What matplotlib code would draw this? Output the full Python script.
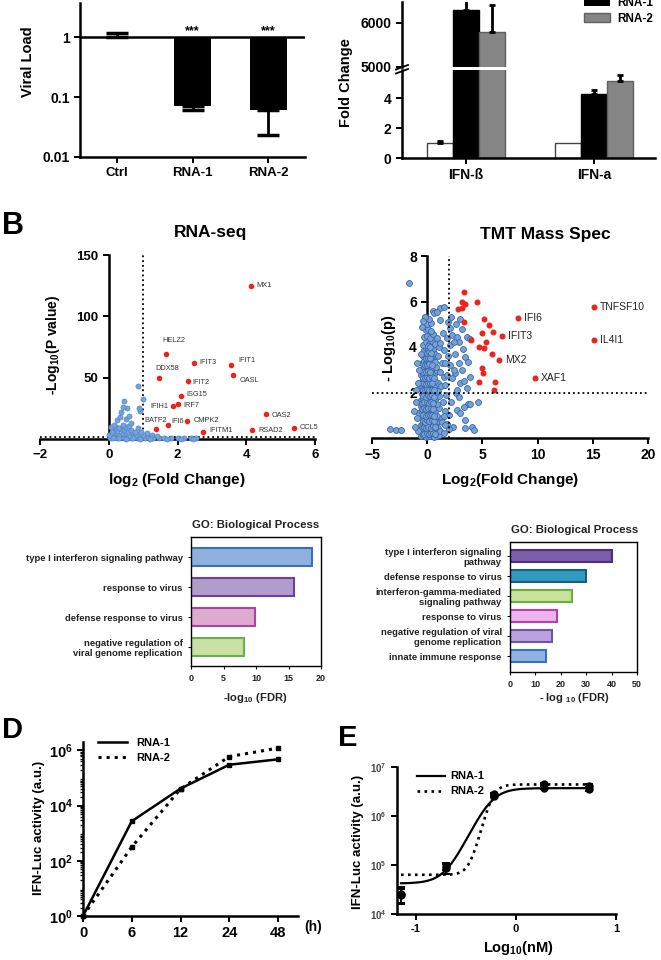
import matplotlib
matplotlib.use('Agg')
import matplotlib.pyplot as plt
import numpy as np
from matplotlib.lines import Line2D
from matplotlib.patches import Patch
from matplotlib.ticker import NullLocator, LogLocator, NullFormatter

plt.rcParams['font.family'] = ['Liberation Sans', 'DejaVu Sans']
plt.rcParams['font.weight'] = 'bold'
plt.rcParams['mathtext.fontset'] = 'custom'
plt.rcParams['mathtext.rm'] = 'Liberation Sans:bold'
plt.rcParams['mathtext.bf'] = 'Liberation Sans:bold'
plt.rcParams['mathtext.it'] = 'Liberation Sans:bold'

# ---- data -------------------------------------------------------------
# A (left) viral load
vl_groups = ['Ctrl', 'RNA-1', 'RNA-2']
vl_vals = [1.0, 0.07, 0.06]
vl_err_lo = [0.0, 0.01, 0.037]
vl_err_hi = [0.17, 0.0, 0.0]

# A (right) fold change
fc_genes = ['IFN-ß', 'IFN-a']
fc_ctrl = [1.0, 1.0]
fc_ctrl_err = [0.17, 0.0]
fc_rna1 = [6280, 4.32]
fc_rna1_err = [400, 0.25]
fc_rna2 = [5800, 5.18]
fc_rna2_err = [600, 0.4]

# B RNA-seq volcano
rna_genes = ['MX1', 'HELZ2', 'IFIT3', 'IFIT1', 'DDX58', 'OASL', 'IFIT2', 'ISG15', 'IRF7',
             'IFIH1', 'OAS2', 'CMPK2', 'IFI6', 'BATF2', 'IFITM1', 'RSAD2', 'CCL5']
rna_fc = [4.15, 1.67, 2.49, 3.57, 1.46, 3.62, 2.30, 2.11, 2.00, 1.88, 4.58, 2.28, 1.72, 1.37, 2.74, 4.17, 5.39]
rna_p = [125, 69, 62, 60, 50, 52, 47, 35, 28.5, 26.6, 20, 15, 11.4, 7.9, 5.4, 7, 9]
rna_blue = [(0.05, 1), (0.15, 2), (0.25, 1), (0.35, 2.5), (0.45, 1), (0.55, 2), (0.65, 1), (0.75, 1.5),
            (0.85, 1), (0.95, 2), (1.05, 1), (1.15, 1.5), (1.3, 1), (1.45, 1.2), (1.6, 0.8), (1.8, 1),
            (2.0, 0.8), (2.2, 1), (2.4, 0.9), (2.55, 1), (0.1, 4), (0.2, 5), (0.3, 3.5), (0.4, 4.5),
            (0.5, 5), (0.6, 3.5), (0.7, 4.5), (0.8, 3), (0.9, 4), (1.0, 3), (0.15, 7), (0.25, 6.5),
            (0.35, 8), (0.45, 7), (0.55, 6), (0.65, 7.5), (0.75, 6), (0.2, 10), (0.3, 9), (0.4, 11),
            (0.5, 9.5), (0.6, 10.5), (0.06, 9.9), (0.16, 11.8), (0.40, 11.8), (0.64, 13.2), (0.23, 15.3),
            (0.50, 16.4), (0.33, 18), (0.58, 19.1), (0.37, 22.1), (0.90, 22.9), (0.87, 25.3), (0.53, 25.3),
            (0.40, 26.2), (0.45, 30.7), (1.01, 32.7), (0.84, 42.9), (0.84, 9.1), (0.95, 6), (1.1, 4.5),
            (1.25, 3), (1.4, 2.5), (0.02, 3), (0.08, 6), (0.12, 0.5), (0.3, 0.5), (0.5, 0.4), (0.7, 0.5),
            (0.9, 0.4), (1.2, 0.3), (1.7, 0.4), (2.1, 0.3), (2.45, 0.4)]

# B TMT volcano
tmt_genes = ['TNFSF10', 'IL4I1', 'IFI6', 'IFIT3', 'MX2', 'XAF1']
tmt_fc = [15.1, 15.1, 8.2, 6.8, 6.5, 9.75]
tmt_p = [5.74, 4.3, 5.27, 4.49, 3.43, 2.63]
tmt_red = [(3.29, 6.42), (3.14, 5.98), (3.44, 5.91), (2.75, 5.69), (3.17, 5.73), (4.52, 5.98),
           (3.35, 5.12), (5.16, 5.23), (5.58, 4.95), (5.94, 4.68), (4.95, 4.61), (3.95, 4.31),
           (5.34, 4.21), (4.65, 3.99), (5.19, 3.95), (5.88, 3.68), (4.95, 3.06), (5.04, 2.84),
           (4.71, 2.44), (6.15, 2.46), (6.06, 2.13)]
tmt_blue = [(-0.55, 0.08), (-0.35, 0.12), (-0.15, 0.05), (0.05, 0.1), (0.25, 0.07), (0.45, 0.12),
            (0.65, 0.06), (0.85, 0.1), (1.05, 0.15), (-0.45, 0.3), (-0.25, 0.35), (-0.05, 0.28),
            (0.15, 0.32), (0.35, 0.4), (0.55, 0.3), (0.75, 0.36), (0.95, 0.42), (1.2, 0.3),
            (-0.6, 0.55), (-0.4, 0.62), (-0.2, 0.58), (0.0, 0.66), (0.2, 0.6), (0.4, 0.7), (0.6, 0.62),
            (0.8, 0.68), (1.0, 0.75), (-0.5, 0.85), (-0.3, 0.9), (-0.1, 0.82), (0.1, 0.95), (0.3, 0.88),
            (0.5, 0.92), (0.7, 0.85), (0.9, 0.98), (-0.7, 1.1), (-0.45, 1.15), (-0.25, 1.05),
            (-0.05, 1.2), (0.15, 1.12), (0.35, 1.25), (0.55, 1.1), (0.75, 1.2), (1.05, 1.3),
            (-0.55, 1.4), (-0.35, 1.45), (-0.15, 1.38), (0.05, 1.5), (0.25, 1.42), (0.45, 1.55),
            (0.65, 1.4), (0.85, 1.48), (-0.6, 1.65), (-0.4, 1.72), (-0.2, 1.62), (0.0, 1.78),
            (0.2, 1.7), (0.4, 1.82), (0.6, 1.68), (0.8, 1.75), (1.1, 1.85), (-0.5, 1.95), (-0.3, 2.0),
            (-0.1, 1.92), (0.1, 2.05), (0.3, 1.98), (0.5, 2.1), (0.7, 1.95), (0.95, 2.05),
            (-0.65, 2.2), (-0.45, 2.28), (-0.25, 2.18), (-0.05, 2.3), (0.15, 2.22), (0.35, 2.35),
            (0.55, 2.25), (0.75, 2.32), (1.0, 2.4), (-0.5, 2.5), (-0.3, 2.55), (-0.1, 2.48), (0.1, 2.6),
            (0.3, 2.52), (0.5, 2.62), (0.7, 2.5), (-0.55, 2.75), (-0.35, 2.8), (-0.15, 2.72),
            (0.05, 2.85), (0.25, 2.78), (0.45, 2.9), (0.65, 2.8), (0.9, 2.95), (-0.45, 3.05),
            (-0.25, 3.1), (-0.05, 3.02), (0.15, 3.15), (0.35, 3.08), (0.55, 3.2), (0.8, 3.1),
            (-0.5, 3.3), (-0.3, 3.38), (-0.1, 3.3), (0.1, 3.42), (0.3, 3.35), (0.5, 3.45), (0.7, 3.35),
            (-0.4, 3.6), (-0.2, 3.65), (0.0, 3.58), (0.2, 3.7), (0.4, 3.62), (0.6, 3.72), (-0.3, 3.88),
            (-0.1, 3.95), (0.1, 3.85), (0.3, 3.98), (0.55, 3.9), (-0.35, 4.1), (-0.1, 4.2), (0.15, 4.12),
            (0.4, 4.25), (0.7, 4.15), (-0.25, 4.45), (0.0, 4.5), (0.25, 4.4), (0.5, 4.55), (-0.15, 4.75),
            (0.1, 4.8), (0.35, 4.7), (0.0, 5.0), (0.3, 5.05), (-0.2, 5.3), (0.2, 5.25),
            (-0.45, 0.2), (-0.25, 0.18), (-0.05, 0.22), (0.15, 0.18), (0.35, 0.2), (0.55, 0.22),
            (0.75, 0.18), (-0.5, 0.45), (-0.3, 0.48), (-0.1, 0.42), (0.1, 0.5), (0.3, 0.45), (0.5, 0.52),
            (0.7, 0.48), (-0.4, 0.75), (-0.2, 0.72), (0.0, 0.78), (0.2, 0.75), (0.4, 0.8), (0.6, 0.75),
            (-0.35, 1.0), (-0.15, 0.98), (0.05, 1.02), (0.25, 1.0), (0.45, 1.0), (0.65, 0.98),
            (-0.5, 1.28), (-0.3, 1.3), (-0.1, 1.28), (0.1, 1.32), (0.3, 1.3), (0.5, 1.28), (-0.45, 1.55),
            (-0.25, 1.58), (-0.05, 1.6), (0.15, 1.55), (0.35, 1.6), (0.55, 1.55), (-0.35, 1.85),
            (-0.15, 1.82), (0.05, 1.88), (0.25, 1.85), (0.45, 1.88), (0.65, 1.82), (-0.4, 2.1),
            (-0.2, 2.12), (0.0, 2.15), (0.2, 2.1), (0.4, 2.12), (0.6, 2.1), (-0.35, 2.4), (-0.15, 2.38),
            (0.05, 2.42), (0.25, 2.4), (0.45, 2.42), (-0.4, 2.65), (-0.2, 2.62), (0.0, 2.68), (0.2, 2.65),
            (0.4, 2.68), (0.6, 2.62), (-0.35, 2.92), (-0.15, 2.9), (0.05, 2.95), (0.25, 2.92),
            (-0.2, 3.2), (0.0, 3.22), (0.2, 3.25), (0.4, 3.2), (-0.15, 3.5), (0.05, 3.5), (0.25, 3.52),
            (-0.05, 3.75), (0.15, 3.78), (0.35, 3.75), (0.05, 4.05), (0.25, 4.0),
            (-0.9, 0.9), (-1.0, 1.6), (-0.85, 2.4), (-0.8, 0.3), (-1.1, 0.5), (-0.75, 3.0), (-0.6, 3.7),
            (1.3, 0.9), (1.4, 1.6), (1.25, 2.3), (1.15, 2.9), (1.0, 3.6), (1.3, 3.3), (0.9, 4.4),
            (1.1, 4.0), (1.5, 2.7), (1.6, 1.2), (1.8, 0.6), (1.5, 0.2),
            (1.18, 5.71), (1.48, 5.76), (0.57, 5.6), (0.66, 5.48), (-0.24, 5.3), (2.17, 5.32),
            (2.99, 5.23), (2.08, 4.83), (3.14, 4.8), (2.23, 4.54), (2.68, 4.46), (3.59, 4.43),
            (1.78, 4.39), (2.9, 4.24), (3.89, 4.36), (2.02, 4.09), (1.18, 4.17), (1.48, 3.87),
            (2.53, 3.69), (3.44, 3.58), (3.68, 3.36), (2.84, 3.28), (2.08, 3.21), (3.14, 2.99),
            (2.53, 2.84), (1.78, 2.77), (3.89, 2.69), (2.23, 2.62), (2.99, 2.4), (1.63, 2.32),
            (3.65, 2.18), (2.62, 1.96), (4.64, 1.58), (3.74, 1.51), (2.68, 1.22), (1.93, 1.0),
            (3.44, 0.77), (4.04, 0.48), (2.38, 0.48), (1.33, 0.7), (3.29, 1.36), (3.89, 1.51),
            (3.44, 0.45), (4.28, 0.36), (1.63, 0.55), (1.93, 0.41), (-1.69, 6.8), (-3.35, 0.38),
            (-2.83, 0.33), (-2.35, 0.33), (1.9, 3.6), (2.4, 3.0), (1.6, 3.3), (2.7, 2.1), (3.3, 2.5),
            (1.7, 1.9), (2.2, 1.6), (2.9, 1.8), (1.4, 4.6), (2.6, 5.0), (1.9, 5.1), (0.9, 5.55),
            (-0.5, 4.9), (-0.35, 5.15), (1.2, 5.2), (3.2, 3.9), (2.4, 4.2), (-0.9, 3.3), (-1.2, 1.2),
            (-1.0, 2.1), (3.0, 1.1), (1.5, 0.95)]

# C GO terms
go1_terms = ['type I interferon signaling pathway', 'response to virus',
             'defense response to virus', 'negative regulation of\nviral genome replication']
go1_vals = [18.6, 15.9, 9.9, 8.2]
go2_terms = ['type I interferon signaling\npathway', 'defense response to virus',
             'interferon-gamma-mediated\nsignaling pathway', 'response to virus',
             'negative regulation of viral\ngenome replication', 'innate immune response']
go2_vals = [40, 29.8, 24.6, 18.5, 16.5, 14]

# D time course
d_times = ['0', '6', '12', '24', '48']
d_rna1 = [1, 2700, 41000, 300000, 470000]
d_rna2 = [1, 316, 40000, 590000, 1200000]

# E dose response
e_logc = [-1.15, -0.7, -0.22, 0.28, 0.73]
e_rna1 = [2.6e4, 8.5e4, 2.6e6, 3.8e6, 3.6e6]
e_rna1_err = [1.0e4, 2.0e4, 2.0e5, 3.0e5, 3.0e5]
e_rna2 = [2.5e4, 9.5e4, 2.75e6, 4.5e6, 4.1e6]
e_rna2_err = [0.8e4, 1.5e4, 2.0e5, 3.0e5, 3.0e5]
# fitted 4-parameter logistic: bottom, top, logEC50, hill
e_fit1 = (4.2e4, 3.7e6, -0.26, 4.5)
e_fit2 = (6.3e4, 4.4e6, -0.242, 8.7)

# ---- layout helpers ------------------------------------------------------
W, H = 661, 960
fig = plt.figure(figsize=(W / 100, H / 100), dpi=100)


def box(x0, y0, x1, y1):
    return fig.add_axes([x0 / W, 1 - y1 / H, (x1 - x0) / W, (y1 - y0) / H])


def ftext(x, y, s, **kw):
    kw.setdefault('ha', 'center')
    kw.setdefault('va', 'center')
    kw.setdefault('fontweight', 'bold')
    fig.text(x / W, 1 - y / H, s, **kw)


def clean(ax, lw=1.8, keep=('left', 'bottom')):
    for k, sp in ax.spines.items():
        sp.set_visible(k in keep)
        sp.set_linewidth(lw)
    ax.tick_params(width=lw * 0.8, length=4)


# ---- A left --------------------------------------------------------------
ax = box(80, 3, 305, 157)
xa = np.arange(len(vl_groups))
ax.set_yscale('log')
ax.bar(xa, [v - 1 for v in vl_vals], bottom=1, width=0.49, color='black')
ax.errorbar(xa, vl_vals, yerr=[vl_err_lo, vl_err_hi], fmt='none', ecolor='black',
            elinewidth=2, capsize=8, capthick=2.5)
ax.axhline(1, color='black', lw=1.8)
ax.set_ylim(0.01, 3.7)
ax.set_xlim(-0.49, 2.49)
ax.yaxis.set_minor_locator(NullLocator())
ax.set_yticks([0.01, 0.1, 1])
ax.set_yticklabels(['0.01', '0.1', '1'], fontsize=10)
ax.set_xticks(xa)
ax.set_xticklabels(vl_groups, fontsize=9.5)
clean(ax)
for i in (1, 2):
    ax.text(xa[i], 1.0, '***', ha='center', va='bottom', fontsize=9)
ftext(28, 62, 'Viral Load', rotation=90, fontsize=10.5)

# ---- A right (broken axis) ------------------------------------------------
low = box(402, 70, 655, 158)
up = box(402, 2, 655, 67)
xg = np.arange(len(fc_genes))
off, bw = 0.203, 0.2
for a in (low, up):
    a.bar(xg - off, fc_ctrl, bw, color='white', edgecolor='#444', lw=1)
    a.bar(xg, fc_rna1, bw, color='black', edgecolor='black', lw=1)
    a.bar(xg + off, fc_rna2, bw, color='#858585', edgecolor='#606060', lw=1)
    for xs, vals, errs in ((xg - off, fc_ctrl, fc_ctrl_err), (xg, fc_rna1, fc_rna1_err),
                           (xg + off, fc_rna2, fc_rna2_err)):
        for xx, v, e in zip(xs, vals, errs):
            if e > 0:
                a.errorbar(xx, v, yerr=[[0], [e]], fmt='none', ecolor='black',
                           elinewidth=2, capsize=2, capthick=2)
    a.set_xlim(-0.5, 1.477)
low.set_ylim(0, 5.9)
up.set_ylim(5000, 6470)
low.set_yticks([0, 2, 4])
low.set_yticklabels(['0', '2', '4'], fontsize=10)
up.set_yticks([5000, 6000])
up.set_yticklabels(['5000', '6000'], fontsize=10)
low.set_xticks(xg)
low.set_xticklabels(fc_genes, fontsize=10)
clean(low)
clean(up, keep=('left',))
up.set_xticks([])
for yy in (67.5, 71.5):
    fig.add_artist(Line2D([396 / W, 408 / W], [1 - (yy + 2) / H, 1 - (yy - 2.5) / H],
                          color='black', lw=1.3))
fig.legend(handles=[Patch(facecolor='black'), Patch(facecolor='#858585', edgecolor='#606060')],
           labels=['RNA-1', 'RNA-2'], loc='upper left', bbox_to_anchor=(578 / W, 1 + 9 / H),
           frameon=False, fontsize=8.5, handlelength=2.2, handleheight=0.8,
           labelspacing=0.35, borderpad=0, handletextpad=0.6)
ftext(346, 83, 'Fold Change', rotation=90, fontsize=10.5)

# ---- B RNA-seq volcano ------------------------------------------------------
ax = box(40, 255, 315, 439)
bfc, bp = zip(*rna_blue)
ax.scatter(bfc, bp, s=14, c='#74A2DB', edgecolors='#4C7FC2', linewidths=0.4, zorder=3, clip_on=False)
ax.scatter(rna_fc, rna_p, s=9, c='#E8261E', zorder=4)
ax.axvline(1, ls=':', color='black', lw=1.3)
ax.axhline(1.3, ls=':', color='black', lw=1.3)
rna_offsets = [(5, 0, 'left'), (8, 14, 'center'), (5, 0, 'left'), (7, 5, 'left'), (8, 9, 'center'),
               (6, -5, 'left'), (5, -1, 'left'), (5, 2, 'left'), (6, -1, 'left'), (-5, 0, 'right'),
               (5, -1, 'left'), (6, 0, 'left'), (4, 4, 'left'), (0, 9, 'center'), (6, 2, 'left'),
               (6, 0, 'left'), (6, 0, 'left')]
for g, x, y, (dx, dy, ha) in zip(rna_genes, rna_fc, rna_p, rna_offsets):
    ax.annotate(g, (x, y), xytext=(dx, dy), textcoords='offset pixels', ha=ha, va='center',
                fontsize=5.3, fontweight='normal', color='#333333')
ax.set_xlim(-2, 6)
ax.set_ylim(0, 150)
ax.spines['left'].set_position(('data', 0))
clean(ax)
ax.set_xticks([-2, 0, 2, 4, 6])
ax.set_yticks([50, 100, 150])
ax.tick_params(labelsize=9.5)
ftext(211, 232, 'RNA-seq', fontsize=12.5)
ftext(53, 345, r'-Log$_{10}$(P value)', rotation=90, fontsize=10)
ftext(177, 480, r'log$_2$ (Fold Change)', fontsize=11)
ftext(13, 226, 'B', fontsize=22)

# ---- B TMT volcano ------------------------------------------------------------
ax = box(372, 256, 648, 438)
tfc, tp = zip(*tmt_blue)
ax.scatter(tfc, tp, s=18, c='#78A1D7', edgecolors='#3A68A8', linewidths=0.6, zorder=3, clip_on=False)
rfc, rp = zip(*tmt_red)
ax.scatter(list(rfc) + tmt_fc, list(rp) + tmt_p, s=11, c='#E8261E', zorder=4)
ax.axvline(2, ls=':', color='black', lw=1.3, zorder=5)
ax.axhline(2, ls=':', color='black', lw=1.3, zorder=5)
for g, x, y in zip(tmt_genes, tmt_fc, tmt_p):
    ax.annotate(g, (x, y), xytext=(6, 0), textcoords='offset pixels', ha='left', va='center',
                fontsize=7.5, fontweight='normal', color='#222222')
ax.set_xlim(-5, 20)
ax.set_ylim(0, 8)
ax.spines['left'].set_position(('data', 0))
clean(ax)
ax.set_xticks([-5, 0, 5, 10, 15, 20])
ax.set_yticks([2, 4, 6, 8])
ax.tick_params(labelsize=10)
ftext(545, 234, 'TMT Mass Spec', fontsize=12.5)
ftext(389, 348, r'- Log$_{10}$(p)', rotation=90, fontsize=10.5)
ftext(510, 480, r'Log$_2$(Fold Change)', fontsize=11)

# ---- GO left -----------------------------------------------------------------
go1_fill = ['#8FB1DF', '#B19CCB', '#DDAAD0', '#C8E0A2']
go1_edge = ['#3D6FB6', '#6B40A0', '#A9449F', '#6AAE4E']
ax = box(191, 537, 321, 666)
yy = np.arange(len(go1_terms))
ax.barh(yy, go1_vals, height=0.6, color=go1_fill, edgecolor=go1_edge, linewidth=1.5)
ax.set_ylim(3.633, -0.667)
ax.set_xlim(0, 20)
ax.set_xticks([0, 5, 10, 15, 20])
ax.set_yticks(yy)
ax.set_yticklabels(go1_terms, fontsize=6.8, color='#222222')
ax.tick_params(axis='x', labelsize=6.5, labelcolor='#222222')
clean(ax, lw=1, keep=('left', 'bottom', 'top', 'right'))
ax.tick_params(length=2.5, width=0.8)
ftext(256, 525, 'GO: Biological Process', fontsize=8.2, color='#222222')
ftext(255, 698, r'-log$_{10}$ (FDR)', fontsize=8, color='#222222')

# ---- GO right ----------------------------------------------------------------
go2_fill = ['#7B5EA7', '#2F9BC1', '#C9E39D', '#EEB2EE', '#B9A2DD', '#8FB2E2']
go2_edge = ['#4A2F85', '#1B5E7B', '#6CAE3C', '#B143B1', '#7252B2', '#3B70C0']
ax = box(510, 542, 637, 672)
yy = np.arange(len(go2_terms))
ax.barh(yy, go2_vals, height=0.6, color=go2_fill, edgecolor=go2_edge, linewidth=1.5)
ax.set_ylim(5.8, -0.7)
ax.set_xlim(0, 50)
ax.set_xticks([0, 10, 20, 30, 40, 50])
ax.set_yticks(yy)
ax.set_yticklabels(go2_terms, fontsize=6.8, color='#222222', linespacing=1.1)
ax.tick_params(axis='x', labelsize=6.5, labelcolor='#222222')
clean(ax, lw=1, keep=('left', 'bottom', 'top', 'right'))
ax.tick_params(length=2.5, width=0.8)
ftext(575, 530, 'GO: Biological Process', fontsize=8.2, color='#222222')
ftext(574, 698, r'- log $_{10}$ (FDR)', fontsize=8, color='#222222')

# ---- D -----------------------------------------------------------------------
ax = box(83, 742, 298, 916)
xd = np.arange(len(d_times))
ax.set_yscale('log')
ax.plot(xd, d_rna1, '-', color='black', lw=1.8, label='RNA-1', clip_on=False)
ax.plot(xd, d_rna2, ':', color='black', lw=2.2, label='RNA-2', clip_on=False)
ax.plot(xd, d_rna1, 's', color='black', ms=3.5, clip_on=False)
ax.plot(xd, d_rna2, 's', color='black', ms=3.5, clip_on=False)
ax.set_xlim(0, 4.41)
ax.set_ylim(1, 10 ** 6.3)
ax.set_xticks(xd)
ax.set_xticklabels(d_times, fontsize=10.5)
ax.set_yticks([1, 1e2, 1e4, 1e6])
ax.set_yticklabels([r'$10^0$', r'$10^2$', r'$10^4$', r'$10^6$'], fontsize=10.5)
ax.yaxis.set_minor_locator(LogLocator(base=10, subs=np.arange(2, 10), numticks=20))
ax.yaxis.set_minor_formatter(NullFormatter())
clean(ax)
ax.tick_params(which='minor', length=2.5, width=1)
ax.legend(loc='upper left', bbox_to_anchor=(0.05, 1.05), frameon=False, fontsize=8,
          handlelength=2.6, borderaxespad=0, labelspacing=0.45)
ftext(313, 927, '(h)', fontsize=10)
ftext(39, 828, 'IFN-Luc activity (a.u.)', rotation=90, fontsize=9.5)
ftext(13, 730, 'D', fontsize=21)

# ---- E -----------------------------------------------------------------------
ax = box(397, 767, 616, 914)
ax.set_yscale('log')
xc = np.linspace(-1.15, 0.75, 300)
for (bot, top, ec, hill), ls, lab in ((e_fit1, '-', 'RNA-1'), (e_fit2, ':', 'RNA-2')):
    ax.plot(xc, bot + (top - bot) / (1 + 10 ** ((ec - xc) * hill)), ls, color='black',
            lw=1.6 if ls == '-' else 1.9, label=lab)
ax.errorbar(e_logc, e_rna1, yerr=e_rna1_err, fmt='o', color='black', ms=5, capsize=3,
            elinewidth=1.5, capthick=1.5)
ax.errorbar(e_logc, e_rna2, yerr=e_rna2_err, fmt='o', color='black', ms=5, capsize=3,
            elinewidth=1.5, capthick=1.5)
ax.set_xlim(-1.19, 1.0)
ax.set_ylim(1e4, 1e7)
ax.set_xticks([-1, 0, 1])
ax.set_xticklabels(['-1', '0', '1'], fontsize=8)
ax.set_yticks([1e4, 1e5, 1e6, 1e7])
ax.set_yticklabels([r'$10^4$', r'$10^5$', r'$10^6$', r'$10^7$'], fontsize=7, color='#444444')
ax.yaxis.set_minor_locator(NullLocator())
clean(ax)
ax.legend(loc='upper left', bbox_to_anchor=(0.07, 1.0), frameon=False, fontsize=8,
          handlelength=2.5, handletextpad=0.5, borderaxespad=0, labelspacing=0.45)
ftext(358, 842, 'IFN-Luc activity (a.u.)', rotation=90, fontsize=9.5)
ftext(518, 948, r'Log$_{10}$(nM)', fontsize=10.5)
ftext(348, 738, 'E', fontsize=21)

fig.savefig('out.png', dpi=100)
